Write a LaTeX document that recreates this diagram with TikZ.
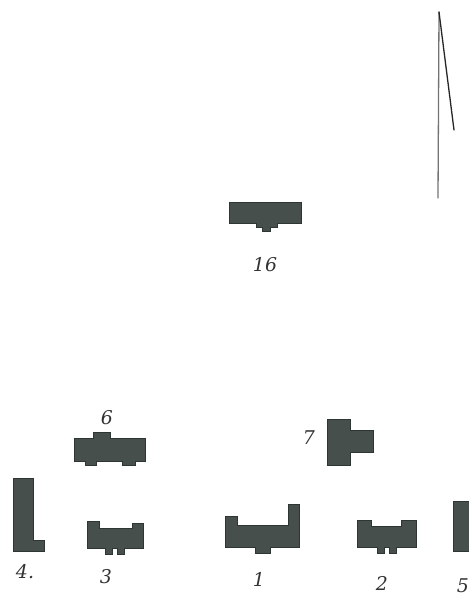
\documentclass[tikz,border=0pt]{standalone}
\usepackage{xcolor}
\usepackage{fontspec}
\setmainfont{DejaVu Serif}
\usepackage{tikz}
\definecolor{blockgray}{HTML}{474F4D}
\definecolor{edgegray}{HTML}{2E3634}

\begin{document}
\begin{tikzpicture}[
    x=1bp, y=-1bp,
    font=\fontsize{19}{21}\selectfont\itshape,
    block/.style={draw=edgegray, fill=blockgray, line width=0.7bp, line join=miter},
    numlabel/.style={inner sep=0pt, text=black!80},
    stroke/.style={line width=1.3bp, line cap=round}
  ]
  \useasboundingbox (0,0) rectangle (469,598);

  % mast
  \coordinate (apex) at (439,12);
  \coordinate (mastfoot) at (438,198);
  \coordinate (mastarm) at (454,130);
  \draw[stroke, black!55] (apex) -- (mastfoot);
  \draw[stroke, black!85] (apex) -- (mastarm);

  % blocks
  \draw[block] (229,202) -- (301,202) -- (301,223) -- (277,223) -- (277,227) -- (270,227) -- (270,231) -- (262,231) -- (262,227) -- (256,227) -- (256,223) -- (229,223) -- cycle;
  \draw[block] (74,438) -- (93,438) -- (93,432) -- (110,432) -- (110,438) -- (145,438) -- (145,461) -- (135,461) -- (135,465) -- (122,465) -- (122,461) -- (96,461) -- (96,465) -- (85,465) -- (85,461) -- (74,461) -- cycle;
  \draw[block] (13,478) -- (33,478) -- (33,540) -- (44,540) -- (44,551) -- (13,551) -- cycle;
  \draw[block] (87,521) -- (99,521) -- (99,528) -- (132,528) -- (132,523) -- (143,523) -- (143,548) -- (124,548) -- (124,554) -- (117,554) -- (117,548) -- (112,548) -- (112,554) -- (105,554) -- (105,548) -- (87,548) -- cycle;
  \draw[block] (225,516) -- (237,516) -- (237,525) -- (288,525) -- (288,504) -- (299,504) -- (299,547) -- (270,547) -- (270,553) -- (255,553) -- (255,547) -- (225,547) -- cycle;
  \draw[block] (327,419) -- (350,419) -- (350,430) -- (373,430) -- (373,452) -- (350,452) -- (350,465) -- (327,465) -- cycle;
  \draw[block] (357,520) -- (371,520) -- (371,526) -- (401,526) -- (401,520) -- (416,520) -- (416,547) -- (396,547) -- (396,553) -- (389,553) -- (389,547) -- (384,547) -- (384,553) -- (377,553) -- (377,547) -- (357,547) -- cycle;
  \draw[block] (453,501) -- (470,501) -- (470,551) -- (453,551) -- cycle;

  % numbers
  \node[numlabel] (lab16) at (265,265) {16};
  \node[numlabel] (lab6) at (107,418) {6};
  \node[numlabel] (lab7) at (309,438) {7};
  \node[numlabel] (lab4) at (25,572) {4.};
  \node[numlabel] (lab3) at (106,577) {3};
  \node[numlabel] (lab1) at (259,579) {1};
  \node[numlabel] (lab2) at (382,583) {2};
  \node[numlabel] (lab5) at (463,586) {5};
\end{tikzpicture}
\end{document}
